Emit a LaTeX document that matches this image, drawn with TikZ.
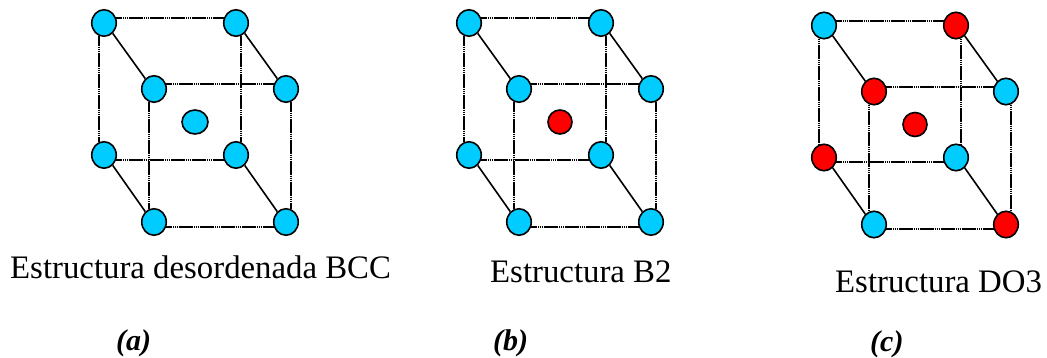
\documentclass[tikz,border=0pt]{standalone}
\usepackage{fontspec}
\setmainfont{Liberation Serif}
\usetikzlibrary{shapes.geometric}
\definecolor{sky}{HTML}{00CCFF}
\definecolor{ruby}{HTML}{FF0000}
\tikzset{
  atom/.style={ellipse, draw=black, line width=1.6pt, minimum width=24.5pt, minimum height=26.5pt, inner sep=0pt},
  edge/.style={line width=2pt, dash pattern=on 1.7pt off .4pt},
  slant/.style={line width=1.6pt},
  caption/.style={font=\fontsize{32.8}{36}\selectfont, anchor=base west, inner sep=0pt},
  tag/.style={font=\fontsize{30}{34}\selectfont\bfseries\itshape, anchor=base west, inner sep=0pt}
}
\begin{document}
\begin{tikzpicture}[x=1pt, y=-1pt]
  \useasboundingbox (0,0) rectangle (1047,358);
  % one cube per panel: prefix / x shift / y shift / centre width / colours of a..h and centre
  \foreach \p/\dx/\dy/\mw/\ca/\cb/\cc/\cd/\ce/\cf/\cg/\ch/\cm in {
    a/0/0/26/sky/sky/sky/sky/sky/sky/sky/sky/sky,
    b/365/0/24/sky/sky/sky/sky/sky/sky/sky/sky/ruby,
    c/720/2.5/24/sky/ruby/ruby/sky/ruby/sky/sky/ruby/ruby}{
    \begin{scope}[xshift=\dx pt, yshift=-\dy pt]
      \node[atom, fill=\ca] (\p a) at (104,23) {};
      \node[atom, fill=\cb] (\p b) at (236,23) {};
      \node[atom, fill=\cc] (\p c) at (154,89) {};
      \node[atom, fill=\cd] (\p d) at (286,89) {};
      \node[atom, fill=\ce] (\p e) at (104,155) {};
      \node[atom, fill=\cf] (\p f) at (236,155) {};
      \node[atom, fill=\cg] (\p g) at (154,222) {};
      \node[atom, fill=\ch] (\p h) at (286,222) {};
      \node[atom, fill=\cm, minimum width=\mw pt, minimum height=24pt] (\p m) at (195,122) {};
    \end{scope}
    % cube edges leave the balls a little off centre
    \draw[edge] (\p a.22) -- (\p b.158);
    \draw[edge] (\p c.22) -- (\p d.158);
    \draw[edge] (\p e.-22) -- (\p f.202);
    \draw[edge] (\p g.-22) -- (\p h.202);
    \draw[edge] (\p a.250) -- (\p e.110);
    \draw[edge] (\p c.250) -- (\p g.110);
    \draw[edge] (\p b.290) -- (\p f.70);
    \draw[edge] (\p d.290) -- (\p h.70);
    \draw[slant] (\p a.-50) -- (\p c.130);
    \draw[slant] (\p b.-50) -- (\p d.130);
    \draw[slant] (\p e.-50) -- (\p g.130);
    \draw[slant] (\p f.-50) -- (\p h.130);
  }
  \node[caption] (capa) at (10,279) {Estructura desordenada BCC};
  \node[caption] (capb) at (490,283) {Estructura B2};
  \node[caption] (capc) at (835,292) {Estructura DO3};
  \node[tag] (taga) at (116,350) {(a)};
  \node[tag] (tagb) at (493,350) {(b)};
  \node[tag] (tagc) at (870,351) {(c)};
\end{tikzpicture}
\end{document}
